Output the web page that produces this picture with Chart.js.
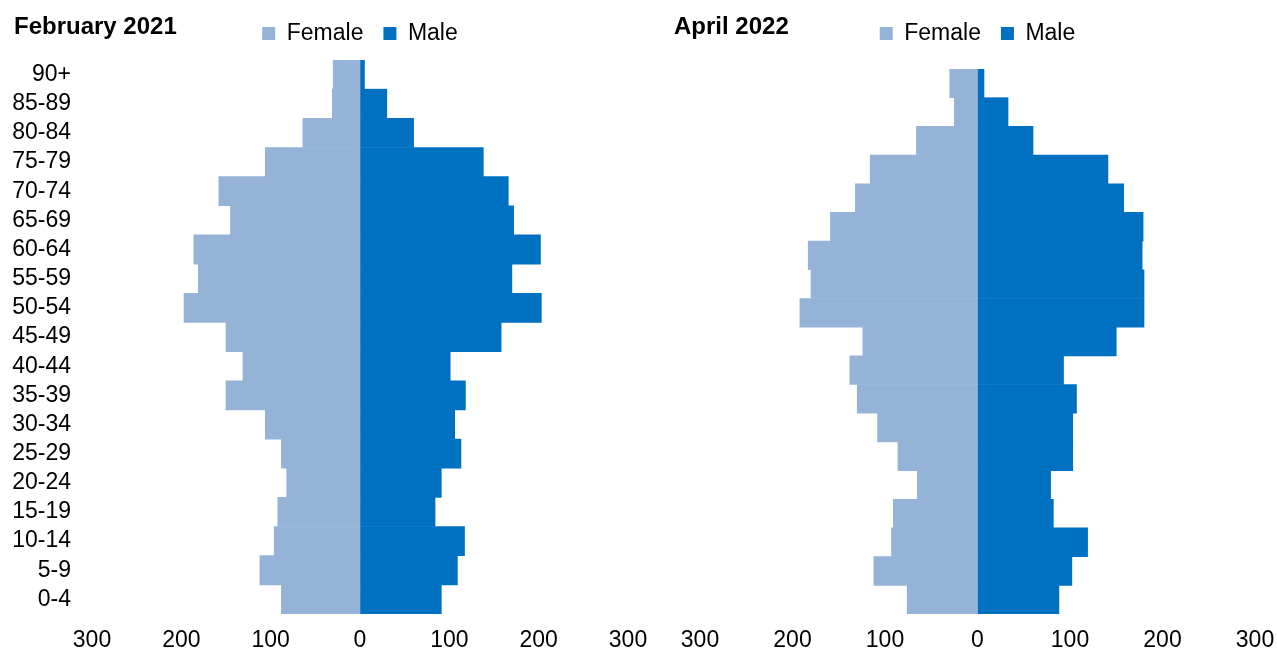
<!DOCTYPE html>
<html>
<head>
<meta charset="utf-8">
<script src="https://cdn.jsdelivr.net/npm/chart.js@4.4.1/dist/chart.umd.min.js"></script>
<style>
body{margin:0;background:#fff;width:1277px;height:653px;overflow:hidden;position:relative;font-family:"Liberation Sans",Arial,sans-serif}
.box{position:absolute;top:0;height:653px}
.ttl{position:absolute;top:12px;font-weight:bold;font-size:24px;color:#000}
</style>
</head>
<body>
<div class="box" style="left:0;width:660px"><canvas id="c1" width="660" height="653"></canvas></div>
<div class="box" style="left:640px;width:637px"><canvas id="c2" width="637" height="653"></canvas></div>
<div class="ttl" style="left:14px">February 2021</div>
<div class="ttl" style="left:674px">April 2022</div>
<script>
// age groups, bottom to top
const ages = ['0-4','5-9','10-14','15-19','20-24','25-29','30-34','35-39','40-44','45-49','50-54','55-59','60-64','65-69','70-74','75-79','80-84','85-89','90+'];

const female2021 = [88,112,96,92,82,88,106,150,131,150,197,181,186,145,158,106,64,31,30];
const male2021   = [91,109,117,84,91,113,106,118,101,158,203,170,202,172,166,138,60,30,5];
const female2022 = [76,112,93,91,65,86,108,130,138,124,192,180,183,159,132,116,66,25,30];
const male2022   = [88,102,119,82,79,103,103,107,93,150,180,180,178,179,158,141,60,33,7];

const FEMALE = '#95B3D7', MALE = '#0070C0';
Chart.defaults.font.family = '"Liberation Sans", Arial, sans-serif';
Chart.defaults.color = '#000';

function pyramid(id, fem, mal, o){
  return new Chart(document.getElementById(id), {
    type:'bar',
    data:{
      labels: ages,
      datasets:[
        {label:'Female', data: fem.map(v=>-v), backgroundColor:FEMALE, borderWidth:0, barPercentage:1, categoryPercentage:1},
        {label:'Male', data: mal, backgroundColor:MALE, borderWidth:0, barPercentage:1, categoryPercentage:1}
      ]
    },
    options:{
      indexAxis:'y',
      responsive:false,
      animation:false,
      layout:{padding:{left:0, right:o.padRight, top:2, bottom:0}},
      plugins:{
        tooltip:{enabled:false},
        legend:{
          position:'top', fullSize:false,
          labels:{boxWidth:13, boxHeight:13, padding:20, font:{size:23}, color:'#000'}
        }
      },
      scales:{
        x:{
          stacked:true, min:-300, max:300,
          ticks:{stepSize:100, callback:v=>Math.abs(v), font:{size:23}, padding:13, maxRotation:0},
          grid:{display:false, drawTicks:false}, border:{display:false},
          afterFit(s){ s.paddingLeft=0; s.paddingRight=0; s.height=39; }
        },
        // empty spacer between legend and bars
        gap:{
          axis:'x', position:'top', type:'linear',
          ticks:{display:false}, grid:{display:false, drawTicks:false}, border:{display:false},
          afterFit(s){ s.paddingLeft=0; s.paddingRight=0; s.height=o.gap; }
        },
        y:{
          stacked:true, reverse:true, display:o.showY,
          ticks:{font:{size:23}, padding:21, autoSkip:false},
          grid:{display:false, drawTicks:false}, border:{display:false},
          afterFit(s){ s.width=o.yW; }
        }
      }
    }
  });
}

pyramid('c1', female2021, male2021, {showY:true, yW:92, padRight:32, gap:5});
pyramid('c2', female2022, male2022, {showY:false, yW:60, padRight:22, gap:14});
</script>
</body>
</html>
